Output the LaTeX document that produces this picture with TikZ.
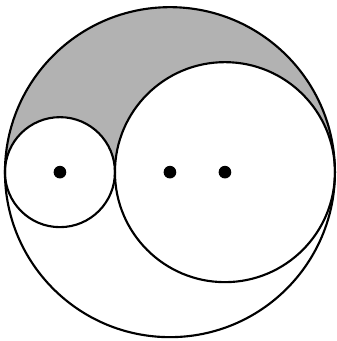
\documentclass[tikz,border=0pt]{standalone}
\begin{document}
\begin{tikzpicture}[x=1cm,y=1cm,line width=1.1pt]
    \useasboundingbox (-3.09,-3.07) rectangle (3.02,3.13);
    \coordinate (O) at (0,0);
    \coordinate (A) at (-2,0);
    \coordinate (B) at (1,0);
    \fill[black!30] (-3,0) arc (180:0:3) arc (0:180:2) arc (0:180:1) -- cycle;
    \draw (O) circle (3);
    \draw (A) circle (1);
    \draw (B) circle (2);
    \foreach \p in {A,O,B}
        \fill (\p) circle (0.115);
\end{tikzpicture}
\end{document}
